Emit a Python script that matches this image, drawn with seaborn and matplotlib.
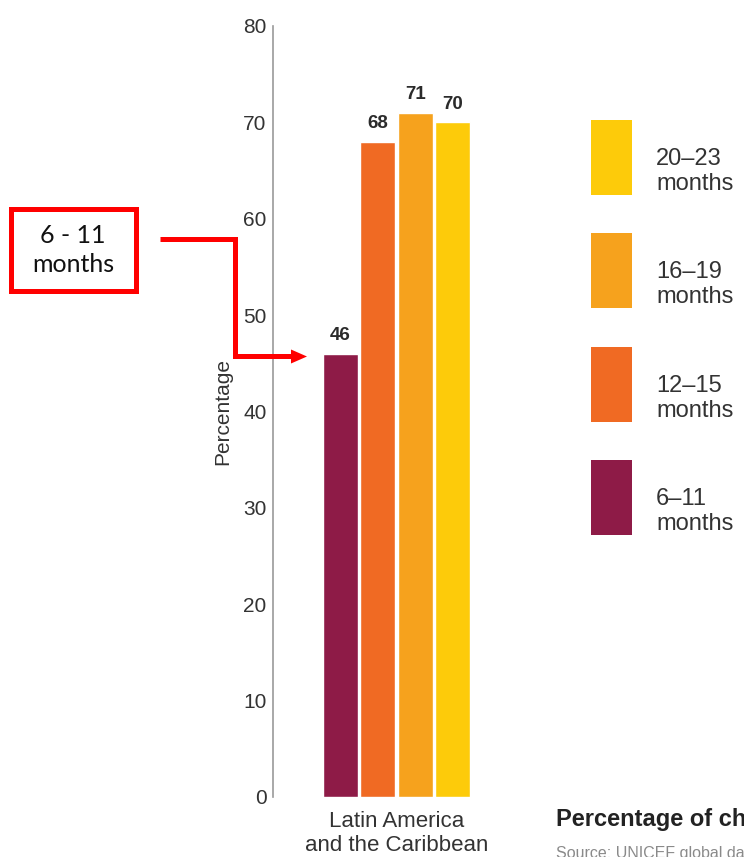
import matplotlib
matplotlib.use("Agg")
import matplotlib.pyplot as plt
import pandas as pd
import seaborn as sns
from matplotlib.patches import Rectangle, Polygon
from matplotlib.lines import Line2D

# ---- data -------------------------------------------------------------
region = ["Latin America\nand the Caribbean"]
age_groups = ["6–11\nmonths", "12–15\nmonths", "16–19\nmonths", "20–23\nmonths"]
percentages = [46, 68, 71, 70]
bar_colors = ["#8E1B47", "#F06A23", "#F6A21D", "#FDCB0A"]
y_ticks = [0, 10, 20, 30, 40, 50, 60, 70, 80]

W, H = 744, 857


def fx(px):
    return px / W


def fy(py):
    return 1 - py / H


sns.set_theme(style="white")
plt.rcParams["font.family"] = ["Liberation Sans", "DejaVu Sans"]

df = pd.DataFrame({
    "region": region * len(age_groups),
    "age": age_groups,
    "pct": percentages,
})

fig = plt.figure(figsize=(W / 100, H / 100), dpi=100)
fig.patch.set_facecolor("white")
ax = fig.add_axes([fx(273), fy(797), (520 - 273) / W, (797 - 26) / H])

sns.barplot(data=df, x="region", y="pct", hue="age", hue_order=age_groups,
            palette=bar_colors, width=0.8, gap=0.06, saturation=1,
            legend=False, ax=ax)

for cont in ax.containers:
    ax.bar_label(cont, fmt="%d", padding=7, fontsize=13.5, fontweight="bold",
                 color="#2b2b2b")

ax.set_ylim(0, 80)
ax.set_xlim(-0.663, 0.663)
ax.set_yticks(y_ticks)
ax.set_facecolor("white")
for side in ("top", "right", "bottom"):
    ax.spines[side].set_visible(False)
ax.spines["left"].set_color("#9a9a9a")
ax.spines["left"].set_linewidth(1.2)

ax.tick_params(axis="y", length=0, pad=4.5, labelsize=15, labelcolor="#333333")
ax.tick_params(axis="x", length=0, pad=10, labelsize=16, labelcolor="#333333")
for t in ax.get_xticklabels():
    t.set_linespacing(1.2)

ax.set_xlabel("")
ax.set_ylabel("Percentage", fontsize=15, color="#333333")
ax.yaxis.set_label_coords(-0.166, 0.5)

# ---- legend: colour swatches with two-line labels ----------------------
swatch_tops = [460, 347, 233, 120]
for color, label, top in zip(bar_colors, age_groups, swatch_tops):
    fig.add_artist(Rectangle((fx(591), fy(top + 75)), 41 / W, 75 / H,
                             transform=fig.transFigure, fc=color, ec="none"))
    fig.text(fx(656), fy(top + 37.5 + 14), label,
             fontsize=17, color="#333333", va="center", ha="left",
             linespacing=1.15)

# ---- caption (runs off the right edge) ---------------------------------
fig.text(fx(556), fy(826), "Percentage of children aged 6–23 months",
         fontsize=17, fontweight="bold", color="#222222", va="baseline")
fig.text(fx(556), fy(858), "Source: UNICEF global databases",
         fontsize=11.5, color="#8a8a8a", va="baseline")

# ---- callout box with elbow arrow --------------------------------------
red = "#FF0000"
fig.add_artist(Rectangle((fx(10.5), fy(290.5)), 125 / W, 82 / H,
                         transform=fig.transFigure, fill=False, ec=red, lw=3.6))
fig.text(fx(73), fy(250), "6 - 11\nmonths", fontsize=18, color="#111111",
         family=["Lato", "DejaVu Sans"], ha="center", va="center",
         linespacing=1.35)
fig.add_artist(Line2D([fx(160), fx(235), fx(235), fx(293)],
                      [fy(238.5), fy(238.5), fy(356.5), fy(356.5)],
                      transform=fig.transFigure, color=red, lw=3.6,
                      solid_joinstyle="miter", solid_capstyle="butt"))
fig.add_artist(Polygon([(fx(307), fy(356.5)), (fx(291), fy(349.5)),
                        (fx(291), fy(363.5))], closed=True,
                       transform=fig.transFigure, fc=red, ec="none"))

fig.savefig("out.png", dpi=100, facecolor="white")
